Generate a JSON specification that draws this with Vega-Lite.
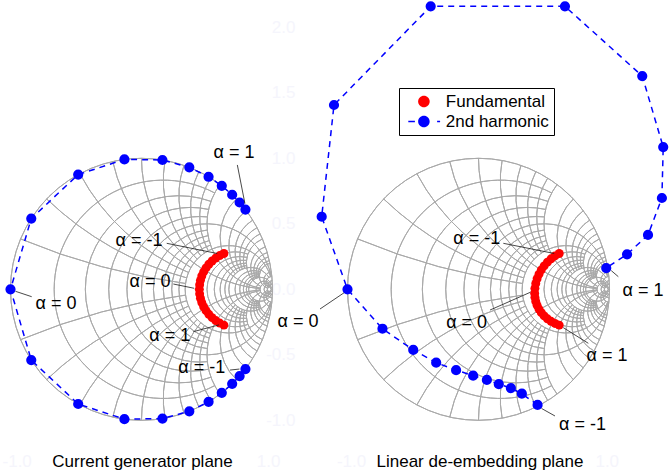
{
  "$schema": "https://vega.github.io/schema/vega-lite/v6.json",
  "width": 670,
  "height": 476,
  "autosize": {"type": "fit", "contains": "padding"},
  "padding": 0,
  "background": "#ffffff",
  "config": {"view": {"stroke": null}, "font": "Liberation Sans"},
  "datasets": {
    "grid": [
      {"re": 0, "im": 0, "R": 1, "t1": 1.5708, "t2": -4.7124},
      {"re": 0.16667, "im": 0, "R": 0.83333, "t1": 0.49, "t2": -3.6316},
      {"re": 0.28571, "im": 0, "R": 0.71429, "t1": 0.3493, "t2": -3.4909},
      {"re": 0.375, "im": 0, "R": 0.625, "t1": 0.2213, "t2": -3.3629},
      {"re": 0.44444, "im": 0, "R": 0.55556, "t1": 0.1052, "t2": -3.2468},
      {"re": 0.5, "im": 0, "R": 0.5, "t1": 1.3715, "t2": -4.5131},
      {"re": 0.54545, "im": 0, "R": 0.45455, "t1": -0.0952, "t2": -3.0464},
      {"re": 0.58333, "im": 0, "R": 0.41667, "t1": -0.1813, "t2": -2.9603},
      {"re": 0.61538, "im": 0, "R": 0.38462, "t1": -0.2594, "t2": -2.8822},
      {"re": 0.64286, "im": 0, "R": 0.35714, "t1": -0.3303, "t2": -2.8113},
      {"re": 0.66667, "im": 0, "R": 0.33333, "t1": 1.273, "t2": -4.4146},
      {"re": 0.71429, "im": 0, "R": 0.28571, "t1": 0.3493, "t2": -3.4909},
      {"re": 0.75, "im": 0, "R": 0.25, "t1": 0.2213, "t2": -3.3629},
      {"re": 0.77778, "im": 0, "R": 0.22222, "t1": 0.1052, "t2": -3.2468},
      {"re": 0.8, "im": 0, "R": 0.2, "t1": 0, "t2": -3.1416},
      {"re": 0.81818, "im": 0, "R": 0.18182, "t1": -0.0952, "t2": -3.0464},
      {"re": 0.83333, "im": 0, "R": 0.16667, "t1": 0.9879, "t2": -4.1295},
      {"re": 0.85714, "im": 0, "R": 0.14286, "t1": 0.3493, "t2": -3.4909},
      {"re": 0.875, "im": 0, "R": 0.125, "t1": 0.2213, "t2": -3.3629},
      {"re": 0.88889, "im": 0, "R": 0.11111, "t1": 0.1052, "t2": -3.2468},
      {"re": 0.9, "im": 0, "R": 0.1, "t1": 0, "t2": -3.1416},
      {"re": 0.90909, "im": 0, "R": 0.09091, "t1": 1.1377, "t2": -4.2793},
      {"re": 0.9375, "im": 0, "R": 0.0625, "t1": 0.5909, "t2": -3.7325},
      {"re": 0.95238, "im": 0, "R": 0.04762, "t1": 0.7756, "t2": -3.9172},
      {"re": 0.96774, "im": 0, "R": 0.03226, "t1": 0.4606, "t2": -3.6022},
      {"re": 0.98039, "im": 0, "R": 0.01961, "t1": 1.5708, "t2": -4.7124},
      {"re": 1, "im": 5, "R": 5, "t1": 3.2747, "t2": 3.5364},
      {"re": 1, "im": 2.5, "R": 2.5, "t1": 3.4067, "t2": 3.9026},
      {"re": 1, "im": 1.66667, "R": 1.66667, "t1": 3.5364, "t2": 4.2224},
      {"re": 1, "im": 1.25, "R": 1.25, "t1": 3.6628, "t2": 4.4911},
      {"re": 1, "im": 1, "R": 1, "t1": 3.2368, "t2": 4.7124},
      {"re": 1, "im": 0.83333, "R": 0.83333, "t1": 3.9026, "t2": 4.8937},
      {"re": 1, "im": 0.71429, "R": 0.71429, "t1": 4.015, "t2": 5.0427},
      {"re": 1, "im": 0.625, "R": 0.625, "t1": 4.1215, "t2": 5.166},
      {"re": 1, "im": 0.55556, "R": 0.55556, "t1": 4.2224, "t2": 5.269},
      {"re": 1, "im": 0.5, "R": 0.5, "t1": 3.3315, "t2": 5.3559},
      {"re": 1, "im": 0.4, "R": 0.4, "t1": 3.9312, "t2": 5.5222},
      {"re": 1, "im": 0.33333, "R": 0.33333, "t1": 4.0689, "t2": 5.6397},
      {"re": 1, "im": 0.28571, "R": 0.28571, "t1": 4.1977, "t2": 5.7266},
      {"re": 1, "im": 0.25, "R": 0.25, "t1": 4.3176, "t2": 5.7932},
      {"re": 1, "im": 0.22222, "R": 0.22222, "t1": 4.4286, "t2": 5.8459},
      {"re": 1, "im": 0.2, "R": 0.2, "t1": 3.6091, "t2": 5.8884},
      {"re": 1, "im": 0.16667, "R": 0.16667, "t1": 4.1403, "t2": 5.9529},
      {"re": 1, "im": 0.14286, "R": 0.14286, "t1": 4.2754, "t2": 5.9994},
      {"re": 1, "im": 0.125, "R": 0.125, "t1": 4.3992, "t2": 6.0345},
      {"re": 1, "im": 0.11111, "R": 0.11111, "t1": 4.5131, "t2": 6.0619},
      {"re": 1, "im": 0.1, "R": 0.1, "t1": 3.5288, "t2": 6.0839},
      {"re": 1, "im": 0.06667, "R": 0.06667, "t1": 4.0422, "t2": 6.1501},
      {"re": 1, "im": 0.05, "R": 0.05, "t1": 3.8902, "t2": 6.1833},
      {"re": 1, "im": 0.03333, "R": 0.03333, "t1": 4.205, "t2": 6.2166},
      {"re": 1, "im": 0.02, "R": 0.02, "t1": 3.1416, "t2": 6.2432},
      {"re": 1, "im": -5, "R": 5, "t1": -0.1331, "t2": -0.3948},
      {"re": 1, "im": -2.5, "R": 2.5, "t1": -0.2651, "t2": -0.761},
      {"re": 1, "im": -1.66667, "R": 1.66667, "t1": -0.3948, "t2": -1.0808},
      {"re": 1, "im": -1.25, "R": 1.25, "t1": -0.5212, "t2": -1.3495},
      {"re": 1, "im": -1, "R": 1, "t1": -0.0952, "t2": -1.5708},
      {"re": 1, "im": -0.83333, "R": 0.83333, "t1": -0.761, "t2": -1.7521},
      {"re": 1, "im": -0.71429, "R": 0.71429, "t1": -0.8734, "t2": -1.9011},
      {"re": 1, "im": -0.625, "R": 0.625, "t1": -0.9799, "t2": -2.0244},
      {"re": 1, "im": -0.55556, "R": 0.55556, "t1": -1.0808, "t2": -2.1274},
      {"re": 1, "im": -0.5, "R": 0.5, "t1": -0.1899, "t2": -2.2143},
      {"re": 1, "im": -0.4, "R": 0.4, "t1": -0.7896, "t2": -2.3806},
      {"re": 1, "im": -0.33333, "R": 0.33333, "t1": -0.9273, "t2": -2.4981},
      {"re": 1, "im": -0.28571, "R": 0.28571, "t1": -1.0561, "t2": -2.585},
      {"re": 1, "im": -0.25, "R": 0.25, "t1": -1.176, "t2": -2.6516},
      {"re": 1, "im": -0.22222, "R": 0.22222, "t1": -1.287, "t2": -2.7043},
      {"re": 1, "im": -0.2, "R": 0.2, "t1": -0.4675, "t2": -2.7468},
      {"re": 1, "im": -0.16667, "R": 0.16667, "t1": -0.9987, "t2": -2.8113},
      {"re": 1, "im": -0.14286, "R": 0.14286, "t1": -1.1338, "t2": -2.8578},
      {"re": 1, "im": -0.125, "R": 0.125, "t1": -1.2576, "t2": -2.8929},
      {"re": 1, "im": -0.11111, "R": 0.11111, "t1": -1.3715, "t2": -2.9203},
      {"re": 1, "im": -0.1, "R": 0.1, "t1": -0.3873, "t2": -2.9423},
      {"re": 1, "im": -0.06667, "R": 0.06667, "t1": -0.9006, "t2": -3.0085},
      {"re": 1, "im": -0.05, "R": 0.05, "t1": -0.7487, "t2": -3.0417},
      {"re": 1, "im": -0.03333, "R": 0.03333, "t1": -1.0634, "t2": -3.075},
      {"re": 1, "im": -0.02, "R": 0.02, "t1": 0, "t2": -3.1016}
    ],
    "points": [
      {"plane": "current", "series": "Fundamental", "alpha": -1, "re": 0.6292, "im": 0.2733},
      {"plane": "current", "series": "Fundamental", "alpha": -0.9, "re": 0.5969, "im": 0.2576},
      {"plane": "current", "series": "Fundamental", "alpha": -0.8, "re": 0.5667, "im": 0.2385},
      {"plane": "current", "series": "Fundamental", "alpha": -0.7, "re": 0.539, "im": 0.2162},
      {"plane": "current", "series": "Fundamental", "alpha": -0.6, "re": 0.5142, "im": 0.191},
      {"plane": "current", "series": "Fundamental", "alpha": -0.5, "re": 0.4927, "im": 0.1633},
      {"plane": "current", "series": "Fundamental", "alpha": -0.4, "re": 0.4746, "im": 0.1333},
      {"plane": "current", "series": "Fundamental", "alpha": -0.3, "re": 0.4603, "im": 0.1016},
      {"plane": "current", "series": "Fundamental", "alpha": -0.2, "re": 0.45, "im": 0.0685},
      {"plane": "current", "series": "Fundamental", "alpha": -0.1, "re": 0.4437, "im": 0.0345},
      {"plane": "current", "series": "Fundamental", "alpha": 0, "re": 0.4416, "im": 0},
      {"plane": "current", "series": "Fundamental", "alpha": 0.1, "re": 0.4437, "im": -0.0345},
      {"plane": "current", "series": "Fundamental", "alpha": 0.2, "re": 0.45, "im": -0.0685},
      {"plane": "current", "series": "Fundamental", "alpha": 0.3, "re": 0.4603, "im": -0.1016},
      {"plane": "current", "series": "Fundamental", "alpha": 0.4, "re": 0.4746, "im": -0.1333},
      {"plane": "current", "series": "Fundamental", "alpha": 0.5, "re": 0.4927, "im": -0.1633},
      {"plane": "current", "series": "Fundamental", "alpha": 0.6, "re": 0.5142, "im": -0.191},
      {"plane": "current", "series": "Fundamental", "alpha": 0.7, "re": 0.539, "im": -0.2162},
      {"plane": "current", "series": "Fundamental", "alpha": 0.8, "re": 0.5667, "im": -0.2385},
      {"plane": "current", "series": "Fundamental", "alpha": 0.9, "re": 0.5969, "im": -0.2576},
      {"plane": "current", "series": "Fundamental", "alpha": 1, "re": 0.6292, "im": -0.2733},
      {"plane": "current", "series": "2nd harmonic", "alpha": -1, "re": 0.7934, "im": -0.6088},
      {"plane": "current", "series": "2nd harmonic", "alpha": -0.9, "re": 0.749, "im": -0.6626},
      {"plane": "current", "series": "2nd harmonic", "alpha": -0.8, "re": 0.6921, "im": -0.7218},
      {"plane": "current", "series": "2nd harmonic", "alpha": -0.7, "re": 0.6129, "im": -0.7902},
      {"plane": "current", "series": "2nd harmonic", "alpha": -0.6, "re": 0.512, "im": -0.859},
      {"plane": "current", "series": "2nd harmonic", "alpha": -0.5, "re": 0.3649, "im": -0.9311},
      {"plane": "current", "series": "2nd harmonic", "alpha": -0.4, "re": 0.1599, "im": -0.9871},
      {"plane": "current", "series": "2nd harmonic", "alpha": -0.3, "re": -0.1305, "im": -0.9914},
      {"plane": "current", "series": "2nd harmonic", "alpha": -0.2, "re": -0.4833, "im": -0.8755},
      {"plane": "current", "series": "2nd harmonic", "alpha": -0.1, "re": -0.8415, "im": -0.5402},
      {"plane": "current", "series": "2nd harmonic", "alpha": 0, "re": -1, "im": 0},
      {"plane": "current", "series": "2nd harmonic", "alpha": 0.1, "re": -0.8415, "im": 0.5402},
      {"plane": "current", "series": "2nd harmonic", "alpha": 0.2, "re": -0.4833, "im": 0.8755},
      {"plane": "current", "series": "2nd harmonic", "alpha": 0.3, "re": -0.1305, "im": 0.9914},
      {"plane": "current", "series": "2nd harmonic", "alpha": 0.4, "re": 0.1599, "im": 0.9871},
      {"plane": "current", "series": "2nd harmonic", "alpha": 0.5, "re": 0.3649, "im": 0.9311},
      {"plane": "current", "series": "2nd harmonic", "alpha": 0.6, "re": 0.512, "im": 0.859},
      {"plane": "current", "series": "2nd harmonic", "alpha": 0.7, "re": 0.6129, "im": 0.7902},
      {"plane": "current", "series": "2nd harmonic", "alpha": 0.8, "re": 0.6921, "im": 0.7218},
      {"plane": "current", "series": "2nd harmonic", "alpha": 0.9, "re": 0.749, "im": 0.6626},
      {"plane": "current", "series": "2nd harmonic", "alpha": 1, "re": 0.7934, "im": 0.6088},
      {"plane": "deembed", "series": "Fundamental", "alpha": -1, "re": 0.6162, "im": 0.2733},
      {"plane": "deembed", "series": "Fundamental", "alpha": -0.9, "re": 0.5839, "im": 0.2546},
      {"plane": "deembed", "series": "Fundamental", "alpha": -0.8, "re": 0.5537, "im": 0.2325},
      {"plane": "deembed", "series": "Fundamental", "alpha": -0.7, "re": 0.526, "im": 0.2072},
      {"plane": "deembed", "series": "Fundamental", "alpha": -0.6, "re": 0.5012, "im": 0.179},
      {"plane": "deembed", "series": "Fundamental", "alpha": -0.5, "re": 0.4797, "im": 0.1483},
      {"plane": "deembed", "series": "Fundamental", "alpha": -0.4, "re": 0.4616, "im": 0.1153},
      {"plane": "deembed", "series": "Fundamental", "alpha": -0.3, "re": 0.4473, "im": 0.0806},
      {"plane": "deembed", "series": "Fundamental", "alpha": -0.2, "re": 0.437, "im": 0.0445},
      {"plane": "deembed", "series": "Fundamental", "alpha": -0.1, "re": 0.4307, "im": 0.0075},
      {"plane": "deembed", "series": "Fundamental", "alpha": 0, "re": 0.4286, "im": -0.03},
      {"plane": "deembed", "series": "Fundamental", "alpha": 0.1, "re": 0.4307, "im": -0.0615},
      {"plane": "deembed", "series": "Fundamental", "alpha": 0.2, "re": 0.437, "im": -0.0925},
      {"plane": "deembed", "series": "Fundamental", "alpha": 0.3, "re": 0.4473, "im": -0.1226},
      {"plane": "deembed", "series": "Fundamental", "alpha": 0.4, "re": 0.4616, "im": -0.1513},
      {"plane": "deembed", "series": "Fundamental", "alpha": 0.5, "re": 0.4797, "im": -0.1783},
      {"plane": "deembed", "series": "Fundamental", "alpha": 0.6, "re": 0.5012, "im": -0.203},
      {"plane": "deembed", "series": "Fundamental", "alpha": 0.7, "re": 0.526, "im": -0.2252},
      {"plane": "deembed", "series": "Fundamental", "alpha": 0.8, "re": 0.5537, "im": -0.2445},
      {"plane": "deembed", "series": "Fundamental", "alpha": 0.9, "re": 0.5839, "im": -0.2606},
      {"plane": "deembed", "series": "Fundamental", "alpha": 1, "re": 0.6162, "im": -0.2733},
      {"plane": "deembed", "series": "2nd harmonic", "alpha": -1, "re": 0.451, "im": -0.883},
      {"plane": "deembed", "series": "2nd harmonic", "alpha": -0.9, "re": 0.331, "im": -0.797},
      {"plane": "deembed", "series": "2nd harmonic", "alpha": -0.8, "re": 0.247, "im": -0.754},
      {"plane": "deembed", "series": "2nd harmonic", "alpha": -0.7, "re": 0.155, "im": -0.724},
      {"plane": "deembed", "series": "2nd harmonic", "alpha": -0.6, "re": 0.064, "im": -0.692},
      {"plane": "deembed", "series": "2nd harmonic", "alpha": -0.5, "re": -0.041, "im": -0.659},
      {"plane": "deembed", "series": "2nd harmonic", "alpha": -0.4, "re": -0.171, "im": -0.617},
      {"plane": "deembed", "series": "2nd harmonic", "alpha": -0.3, "re": -0.323, "im": -0.56},
      {"plane": "deembed", "series": "2nd harmonic", "alpha": -0.2, "re": -0.498, "im": -0.463},
      {"plane": "deembed", "series": "2nd harmonic", "alpha": -0.1, "re": -0.733, "im": -0.301},
      {"plane": "deembed", "series": "2nd harmonic", "alpha": 0, "re": -1, "im": 0},
      {"plane": "deembed", "series": "2nd harmonic", "alpha": 0.1, "re": -1.197, "im": 0.554},
      {"plane": "deembed", "series": "2nd harmonic", "alpha": 0.2, "re": -1.103, "im": 1.407},
      {"plane": "deembed", "series": "2nd harmonic", "alpha": 0.3, "re": -0.365, "im": 2.16},
      {"plane": "deembed", "series": "2nd harmonic", "alpha": 0.4, "re": 0.66, "im": 2.16},
      {"plane": "deembed", "series": "2nd harmonic", "alpha": 0.5, "re": 1.25, "im": 1.628},
      {"plane": "deembed", "series": "2nd harmonic", "alpha": 0.6, "re": 1.41, "im": 1.086},
      {"plane": "deembed", "series": "2nd harmonic", "alpha": 0.7, "re": 1.4, "im": 0.697},
      {"plane": "deembed", "series": "2nd harmonic", "alpha": 0.8, "re": 1.294, "im": 0.415},
      {"plane": "deembed", "series": "2nd harmonic", "alpha": 0.9, "re": 1.134, "im": 0.267},
      {"plane": "deembed", "series": "2nd harmonic", "alpha": 1, "re": 0.975, "im": 0.162}
    ]
  },
  "layer": [
    {
      "encoding": {
        "x": {
          "field": "re", "type": "quantitative",
          "scale": {"domain": [-1.08015, 4.03435], "nice": false, "zero": false},
          "axis": {"orient": "bottom", "offset": -14.5, "values": [-0.953, 0.966], "labelExpr": "datum.value < 0 ? '-1.0' : '1.0'", "labelColor": "#f5f5fc", "labelFontSize": 17, "labelFont": "Liberation Sans", "labelBaseline": "middle", "labelPadding": 0, "ticks": false, "tickSize": 0, "domain": false, "grid": false, "title": null, "labelFlush": false, "labelOverlap": false, "minExtent": 0, "maxExtent": 12}
        },
        "y": {
          "field": "im", "type": "quantitative",
          "scale": {"domain": [-1.42519, 2.2084], "nice": false, "zero": false},
          "axis": {"orient": "left", "offset": -295, "values": [-1, -0.5, 0, 0.5, 1, 1.5, 2], "labelExpr": "datum.value < 0 ? '-' + format(-datum.value, '.1f') : format(datum.value, '.1f')", "labelColor": "#f5f5fc", "labelFontSize": 17, "labelFont": "Liberation Sans", "labelAlign": "right", "labelBaseline": "middle", "labelPadding": 0, "ticks": false, "tickSize": 0, "domain": false, "grid": false, "title": null, "labelFlush": false, "labelOverlap": false, "minExtent": 0, "maxExtent": 40}
        }
      },
      "layer": [
        {
          "data": {"name": "grid"},
          "mark": {"type": "arc", "filled": false, "stroke": "#a9a9a9", "strokeWidth": 1},
          "encoding": {
            "theta": {"field": "t1", "type": "quantitative", "scale": null, "stack": null},
            "theta2": {"field": "t2"},
            "radius": {"field": "R", "type": "quantitative", "scale": {"type": "linear", "domain": [0, 1], "range": [0, 131], "zero": true}},
            "radius2": {"field": "R"}
          }
        },
        {
          "data": {"values": [{}]},
          "mark": {"type": "rule", "stroke": "#a9a9a9", "strokeWidth": 1},
          "encoding": {"x": {"datum": -1, "type": "quantitative"}, "x2": {"datum": 1}, "y": {"datum": 0, "type": "quantitative"}}
        },
        {
          "data": {"name": "points"},
          "transform": [{"filter": "datum.plane === 'current' && datum.series === '2nd harmonic'"}],
          "mark": {"type": "line", "color": "#0000ff", "strokeWidth": 1.5, "strokeDash": [6, 5]},
          "encoding": {"order": {"field": "alpha", "type": "quantitative"}}
        },
        {
          "data": {"name": "points"},
          "transform": [{"filter": "datum.plane === 'current' && datum.series === '2nd harmonic'"}],
          "mark": {"type": "point", "filled": true, "opacity": 1, "size": 104, "color": "#0000ff"}
        },
        {
          "data": {"name": "points"},
          "transform": [{"filter": "datum.plane === 'current' && datum.series === 'Fundamental'"}],
          "mark": {"type": "point", "filled": true, "opacity": 1, "size": 80, "color": "#ff0000"}
        },
        {
          "data": {"name": "points"},
          "transform": [{"filter": "datum.plane === 'legend-only'"}],
          "mark": {"type": "point", "filled": true, "opacity": 1},
          "encoding": {
            "color": {
              "field": "series", "type": "nominal",
              "scale": {"domain": ["Fundamental", "2nd harmonic"], "range": ["#ff0000", "#0000ff"]},
              "legend": {
                "orient": "none", "legendX": 399, "legendY": 88, "title": null,
                "padding": 5, "rowPadding": 2,
                "strokeColor": "#000000", "fillColor": "#ffffff",
                "labelFont": "Liberation Sans", "labelFontSize": 17, "labelColor": "#000000",
                "symbolSize": 144, "symbolOffset": 11.4, "labelOffset": 13.4,
                "symbolStrokeWidth": 0, "symbolOpacity": 1
              }
            },
            "shape": {
              "field": "series", "type": "nominal",
              "scale": {"domain": ["Fundamental", "2nd harmonic"], "range": ["M0.96,0A0.96,0.96,0,1,1,-0.96,0A0.96,0.96,0,1,1,0.96,0Z", "M-2.6,-0.12H-1.5V0.12H-2.6Z M2.2,-0.12H2.7V0.12H2.2Z M0.96,0A0.96,0.96,0,1,1,-0.96,0A0.96,0.96,0,1,1,0.96,0Z"]},
              "legend": {
                "orient": "none", "legendX": 399, "legendY": 88, "title": null,
                "padding": 5, "rowPadding": 2,
                "strokeColor": "#000000", "fillColor": "#ffffff",
                "labelFont": "Liberation Sans", "labelFontSize": 17, "labelColor": "#000000",
                "symbolSize": 144, "symbolOffset": 11.4, "labelOffset": 13.4,
                "symbolStrokeWidth": 0, "symbolOpacity": 1
              }
            }
          }
        },
        {
          "data": {"name": "points"},
          "transform": [{"filter": "datum.plane === 'current' && datum.series === '2nd harmonic' && datum.alpha === 1"}],
          "layer": [
            {"mark": {"type": "rule", "stroke": "#1a1a1a", "strokeWidth": 0.8, "xOffset": -8.1, "yOffset": -44.6, "x2Offset": -0.5, "y2Offset": -6}, "encoding": {"x2": {"field": "re"}, "y2": {"field": "im"}}},
            {"mark": {"type": "text", "text": "α = 1", "dx": -11.4, "dy": -56.6, "fontSize": 18, "align": "center", "baseline": "middle", "color": "#000000"}}
          ]
        },
        {
          "data": {"name": "points"},
          "transform": [{"filter": "datum.plane === 'current' && datum.series === '2nd harmonic' && datum.alpha === -1"}],
          "layer": [
            {"mark": {"type": "rule", "stroke": "#1a1a1a", "strokeWidth": 0.8, "xOffset": -15.4, "yOffset": 1, "x2Offset": -6, "y2Offset": 0}, "encoding": {"x2": {"field": "re"}, "y2": {"field": "im"}}},
            {"mark": {"type": "text", "text": "α = -1", "dx": -43.7, "dy": -0.6, "fontSize": 18, "align": "center", "baseline": "middle", "color": "#000000"}}
          ]
        },
        {
          "data": {"name": "points"},
          "transform": [{"filter": "datum.plane === 'current' && datum.series === '2nd harmonic' && datum.alpha === 0"}],
          "layer": [
            {"mark": {"type": "rule", "stroke": "#1a1a1a", "strokeWidth": 0.8, "xOffset": 5, "yOffset": 2, "x2Offset": 21.2, "y2Offset": 7.4}, "encoding": {"x2": {"field": "re"}, "y2": {"field": "im"}}},
            {"mark": {"type": "text", "text": "α = 0", "dx": 45.5, "dy": 14.7, "fontSize": 18, "align": "center", "baseline": "middle", "color": "#000000"}},
            {"mark": {"type": "text", "text": "Current generator plane", "dx": 132, "dy": 172.2, "fontSize": 17, "align": "center", "baseline": "middle", "color": "#000000"}}
          ]
        },
        {
          "data": {"name": "points"},
          "transform": [{"filter": "datum.plane === 'current' && datum.series === 'Fundamental' && datum.alpha === -1"}],
          "layer": [
            {"mark": {"type": "rule", "stroke": "#1a1a1a", "strokeWidth": 0.8, "xOffset": -57.2, "yOffset": -10.2, "x2Offset": -6.7, "y2Offset": 0}, "encoding": {"x2": {"field": "re"}, "y2": {"field": "im"}}},
            {"mark": {"type": "text", "text": "α = -1", "dx": -84.9, "dy": -12.5, "fontSize": 18, "align": "center", "baseline": "middle", "color": "#000000"}}
          ]
        },
        {
          "data": {"name": "points"},
          "transform": [{"filter": "datum.plane === 'current' && datum.series === 'Fundamental' && datum.alpha === 0"}],
          "layer": [
            {"mark": {"type": "rule", "stroke": "#1a1a1a", "strokeWidth": 0.8, "xOffset": -26, "yOffset": -5.3, "x2Offset": -5.1, "y2Offset": -1}, "encoding": {"x2": {"field": "re"}, "y2": {"field": "im"}}},
            {"mark": {"type": "text", "text": "α = 0", "dx": -49.4, "dy": -7.3, "fontSize": 18, "align": "center", "baseline": "middle", "color": "#000000"}}
          ]
        },
        {
          "data": {"name": "points"},
          "transform": [{"filter": "datum.plane === 'current' && datum.series === 'Fundamental' && datum.alpha === 1"}],
          "layer": [
            {"mark": {"type": "rule", "stroke": "#1a1a1a", "strokeWidth": 0.8, "xOffset": -30.6, "yOffset": 6.6, "x2Offset": -5, "y2Offset": -0.2}, "encoding": {"x2": {"field": "re"}, "y2": {"field": "im"}}},
            {"mark": {"type": "text", "text": "α = 1", "dx": -54.2, "dy": 10.9, "fontSize": 18, "align": "center", "baseline": "middle", "color": "#000000"}}
          ]
        }
      ]
    },
    {
      "encoding": {
        "x": {
          "field": "re", "type": "quantitative",
          "scale": {"domain": [-3.65267, 1.46183], "nice": false, "zero": false},
          "axis": {"orient": "bottom", "offset": -14.5, "values": [-0.973, 0.979], "labelExpr": "datum.value < 0 ? '-1.0' : '1.0'", "labelColor": "#f5f5fc", "labelFontSize": 17, "labelFont": "Liberation Sans", "labelBaseline": "middle", "labelPadding": 0, "ticks": false, "tickSize": 0, "domain": false, "grid": false, "title": null, "labelFlush": false, "labelOverlap": false, "minExtent": 0, "maxExtent": 12}
        },
        "y": {
          "field": "im", "type": "quantitative",
          "scale": {"domain": [-1.42519, 2.2084], "nice": false, "zero": false},
          "axis": {"orient": "left", "offset": -295, "values": [-1, -0.5, 0, 0.5, 1, 1.5, 2], "labelExpr": "datum.value < 0 ? '-' + format(-datum.value, '.1f') : format(datum.value, '.1f')", "labelColor": "#f5f5fc", "labelFontSize": 17, "labelFont": "Liberation Sans", "labelAlign": "right", "labelBaseline": "middle", "labelPadding": 0, "ticks": false, "tickSize": 0, "domain": false, "grid": false, "title": null, "labelFlush": false, "labelOverlap": false, "minExtent": 0, "maxExtent": 40}
        }
      },
      "layer": [
        {
          "data": {"name": "grid"},
          "mark": {"type": "arc", "filled": false, "stroke": "#a9a9a9", "strokeWidth": 1},
          "encoding": {
            "theta": {"field": "t1", "type": "quantitative", "scale": null, "stack": null},
            "theta2": {"field": "t2"},
            "radius": {"field": "R", "type": "quantitative", "scale": {"type": "linear", "domain": [0, 1], "range": [0, 131], "zero": true}},
            "radius2": {"field": "R"}
          }
        },
        {
          "data": {"values": [{}]},
          "mark": {"type": "rule", "stroke": "#a9a9a9", "strokeWidth": 1},
          "encoding": {"x": {"datum": -1, "type": "quantitative"}, "x2": {"datum": 1}, "y": {"datum": 0, "type": "quantitative"}}
        },
        {
          "data": {"name": "points"},
          "transform": [{"filter": "datum.plane === 'deembed' && datum.series === '2nd harmonic'"}],
          "mark": {"type": "line", "color": "#0000ff", "strokeWidth": 1.5, "strokeDash": [6, 5]},
          "encoding": {"order": {"field": "alpha", "type": "quantitative"}}
        },
        {
          "data": {"name": "points"},
          "transform": [{"filter": "datum.plane === 'deembed' && datum.series === '2nd harmonic'"}],
          "mark": {"type": "point", "filled": true, "opacity": 1, "size": 104, "color": "#0000ff"}
        },
        {
          "data": {"name": "points"},
          "transform": [{"filter": "datum.plane === 'deembed' && datum.series === 'Fundamental'"}],
          "mark": {"type": "point", "filled": true, "opacity": 1, "size": 80, "color": "#ff0000"}
        },
        {
          "data": {"name": "points"},
          "transform": [{"filter": "datum.plane === 'deembed' && datum.series === 'Fundamental' && datum.alpha === -1"}],
          "layer": [
            {"mark": {"type": "rule", "stroke": "#1a1a1a", "strokeWidth": 0.8, "xOffset": -55.9, "yOffset": -10.2, "x2Offset": -5, "y2Offset": 0}, "encoding": {"x2": {"field": "re"}, "y2": {"field": "im"}}},
            {"mark": {"type": "text", "text": "α = -1", "dx": -82.5, "dy": -14.5, "fontSize": 18, "align": "center", "baseline": "middle", "color": "#000000"}}
          ]
        },
        {
          "data": {"name": "points"},
          "transform": [{"filter": "datum.plane === 'deembed' && datum.series === 'Fundamental' && datum.alpha === 0"}],
          "layer": [
            {"mark": {"type": "rule", "stroke": "#1a1a1a", "strokeWidth": 0.8, "xOffset": -44.6, "yOffset": 16.8, "x2Offset": -4.2, "y2Offset": -1}, "encoding": {"x2": {"field": "re"}, "y2": {"field": "im"}}},
            {"mark": {"type": "text", "text": "α = 0", "dx": -68, "dy": 29.3, "fontSize": 18, "align": "center", "baseline": "middle", "color": "#000000"}}
          ]
        },
        {
          "data": {"name": "points"},
          "transform": [{"filter": "datum.plane === 'deembed' && datum.series === 'Fundamental' && datum.alpha === 1"}],
          "layer": [
            {"mark": {"type": "rule", "stroke": "#1a1a1a", "strokeWidth": 0.8, "xOffset": 4, "yOffset": 2.5, "x2Offset": 29.1, "y2Offset": 18.2}, "encoding": {"x2": {"field": "re"}, "y2": {"field": "im"}}},
            {"mark": {"type": "text", "text": "α = 1", "dx": 47.8, "dy": 30.9, "fontSize": 18, "align": "center", "baseline": "middle", "color": "#000000"}}
          ]
        },
        {
          "data": {"name": "points"},
          "transform": [{"filter": "datum.plane === 'deembed' && datum.series === '2nd harmonic' && datum.alpha === 0"}],
          "layer": [
            {"mark": {"type": "rule", "stroke": "#1a1a1a", "strokeWidth": 0.8, "xOffset": -27.5, "yOffset": 19.7, "x2Offset": -3.5, "y2Offset": 3.5}, "encoding": {"x2": {"field": "re"}, "y2": {"field": "im"}}},
            {"mark": {"type": "text", "text": "α = 0", "dx": -49.5, "dy": 32.4, "fontSize": 18, "align": "center", "baseline": "middle", "color": "#000000"}},
            {"mark": {"type": "text", "text": "Linear de-embedding plane", "dx": 132.5, "dy": 172.2, "fontSize": 17, "align": "center", "baseline": "middle", "color": "#000000"}}
          ]
        },
        {
          "data": {"name": "points"},
          "transform": [{"filter": "datum.plane === 'deembed' && datum.series === '2nd harmonic' && datum.alpha === 1"}],
          "layer": [
            {"mark": {"type": "rule", "stroke": "#1a1a1a", "strokeWidth": 0.8, "xOffset": 5, "yOffset": 2.5, "x2Offset": 12.1, "y2Offset": 8.6}, "encoding": {"x2": {"field": "re"}, "y2": {"field": "im"}}},
            {"mark": {"type": "text", "text": "α = 1", "dx": 36.8, "dy": 22.9, "fontSize": 18, "align": "center", "baseline": "middle", "color": "#000000"}}
          ]
        },
        {
          "data": {"name": "points"},
          "transform": [{"filter": "datum.plane === 'deembed' && datum.series === '2nd harmonic' && datum.alpha === -1"}],
          "layer": [
            {"mark": {"type": "rule", "stroke": "#1a1a1a", "strokeWidth": 0.8, "xOffset": 4, "yOffset": 3.5, "x2Offset": 17.4, "y2Offset": 11}, "encoding": {"x2": {"field": "re"}, "y2": {"field": "im"}}},
            {"mark": {"type": "text", "text": "α = -1", "dx": 44.9, "dy": 20.5, "fontSize": 18, "align": "center", "baseline": "middle", "color": "#000000"}}
          ]
        }
      ]
    }
  ],
  "resolve": {"scale": {"x": "independent"}}
}
